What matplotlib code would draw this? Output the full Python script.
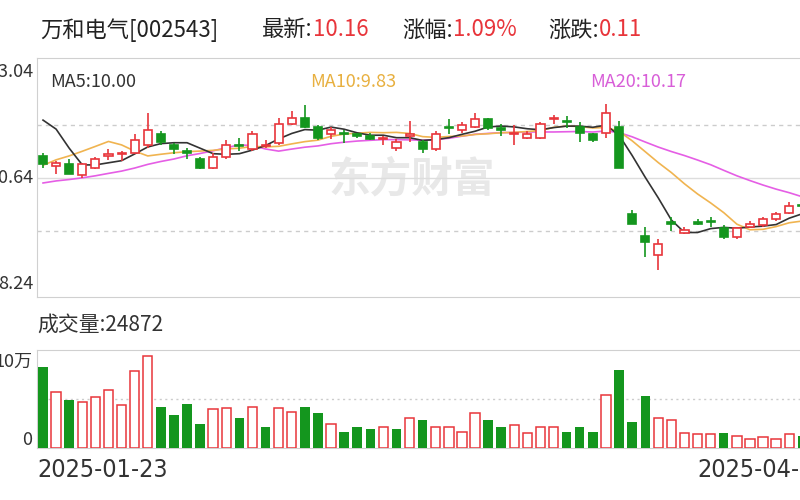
import numpy as np
import pandas as pd
import matplotlib
matplotlib.use("Agg")
import matplotlib.pyplot as plt

plt.rcParams['font.family'] = ['Noto Sans CJK SC', 'DejaVu Sans']

# closes before the visible window (used only for moving averages)
prior_close = [10.05, 10.10, 10.20, 10.15, 10.10, 10.18, 10.12, 10.08, 10.15, 10.17,
               9.75, 9.85, 9.90, 9.98, 10.07, 12.00, 12.90, 12.84, 11.08]
open_ = [11.15, 10.91, 10.95, 10.71, 10.88, 11.15, 11.19, 11.22, 11.39, 11.63, 11.39, 11.26, 11.08, 10.88, 11.12, 11.39, 11.29, 11.36, 11.43, 11.87, 12.01, 11.8, 11.63, 11.67, 11.63, 11.6, 11.53, 11.32, 11.6, 11.46, 11.29, 11.8, 11.74, 11.8, 11.98, 11.77, 11.63, 11.56, 11.56, 11.98, 11.94, 11.8, 11.63, 11.67, 11.8, 9.82, 9.33, 8.89, 9.64, 9.4, 9.64, 9.68, 9.51, 9.3, 9.54, 9.58, 9.71, 9.85, 10.03]
close = [10.95, 10.98, 10.74, 10.95, 11.08, 11.19, 11.22, 11.5, 11.74, 11.46, 11.29, 11.22, 10.88, 11.12, 11.39, 11.36, 11.63, 11.39, 11.87, 12.01, 11.8, 11.56, 11.74, 11.63, 11.6, 11.53, 11.56, 11.46, 11.63, 11.29, 11.63, 11.77, 11.84, 11.98, 11.77, 11.74, 11.67, 11.63, 11.87, 12.01, 11.91, 11.67, 11.5, 12.11, 10.88, 9.61, 9.2, 9.16, 9.61, 9.47, 9.61, 9.64, 9.3, 9.51, 9.61, 9.71, 9.82, 10.02, 10.01]
high = [11.22, 11.02, 11.08, 10.98, 11.12, 11.29, 11.26, 11.63, 12.11, 11.7, 11.43, 11.32, 11.12, 11.22, 11.5, 11.56, 11.7, 11.5, 12.01, 12.15, 12.29, 11.84, 11.8, 11.74, 11.67, 11.67, 11.6, 11.53, 11.94, 11.5, 11.7, 11.98, 11.91, 12.11, 12.01, 11.87, 11.84, 11.7, 11.91, 12.08, 12.05, 11.91, 11.67, 12.32, 11.94, 9.92, 9.54, 9.27, 9.75, 9.54, 9.71, 9.75, 9.58, 9.54, 9.68, 9.75, 9.88, 10.09, 10.08]
low = [10.88, 10.74, 10.74, 10.64, 10.84, 11.05, 11.02, 11.19, 11.32, 11.39, 11.19, 11.08, 10.84, 10.84, 11.08, 11.26, 11.26, 11.32, 11.39, 11.84, 11.77, 11.5, 11.53, 11.43, 11.56, 11.5, 11.39, 11.26, 11.46, 11.22, 11.26, 11.63, 11.67, 11.77, 11.74, 11.6, 11.39, 11.53, 11.53, 11.87, 11.77, 11.46, 11.46, 11.56, 10.88, 9.61, 8.85, 8.55, 9.44, 9.37, 9.58, 9.54, 9.27, 9.27, 9.51, 9.54, 9.68, 9.82, 9.95]
volume_wan = [9.4, 6.5, 5.6, 5.3, 5.9, 6.7, 5.0, 8.9, 10.7, 4.8, 3.8, 5.1, 2.8, 4.5, 4.6, 3.5, 4.8, 2.4, 4.6, 4.2,
              4.8, 4.1, 2.8, 1.9, 2.5, 2.2, 2.4, 2.2, 3.5, 3.2, 2.4, 2.5, 1.9, 4.1, 3.2, 2.4, 2.7, 1.7, 2.5, 2.5,
              1.9, 2.4, 1.9, 6.2, 9.1, 3.0, 6.0, 3.5, 3.2, 1.7, 1.6, 1.6, 1.7, 1.4, 1.1, 1.3, 1.0, 1.6, 1.4]
volume_up = [0,1,0,1,1,1,1,1,1,0,0,0,0,1,1,0,1,0,1,1,0,0,1,0,0,0,1,0,1,0,1,1,1,1,0,0,1,1,1,1,
             0,0,0,1,0,0,0,1,1,1,1,1,0,1,1,1,1,1,0]
price_ticks = [13.04, 10.64, 8.24]
date_labels = ["2025-01-23", "2025-04-1"]

RED = "#e8353b"
GREEN = "#14961e"
n = len(close)
x = np.arange(n)
allc = pd.Series(prior_close + close)
ma = {k: allc.rolling(k).mean().values[len(prior_close):] for k in (5, 10, 20)}

fig = plt.figure(figsize=(8, 5), dpi=100)
W, Hh = 800, 500
def ax_rect(l, t, r, b):
    return [l / W, 1 - b / Hh, (r - l) / W, (b - t) / Hh]

ax = fig.add_axes(ax_rect(37, 58, 801, 297))
xl = (-0.46, 57.9)
ax.set_xlim(*xl)
ax.set_ylim(7.95, 13.36)
for s in ax.spines.values():
    s.set_color("#d0d0d0")
ax.set_xticks([]); ax.set_yticks([])
ax.axhline(10.64, color="#dddddd", lw=1)
for g in (11.84, 9.44):
    ax.axhline(g, color="#cccccc", lw=1, ls=(0, (3, 3)))

ax.text(0.49, 0.49, "东方财富", transform=ax.transAxes, fontsize=30, color="#e8e8e8",
        fontweight="bold", ha="center", va="center", zorder=0)

ax.plot(x, ma[20], color="#e55ee5", lw=1.2, zorder=2)
ax.plot(x, ma[10], color="#f0b450", lw=1.2, zorder=2)
ax.plot(x, ma[5], color="#333333", lw=1.2, zorder=2)

bw = 0.62
for i in range(n):
    o, c, h, l = open_[i], close[i], high[i], low[i]
    up = c >= o
    col = RED if up else GREEN
    top, bot = max(o, c), min(o, c)
    ax.vlines(i, l, bot, color=col, lw=1.2, zorder=3)
    ax.vlines(i, top, h, color=col, lw=1.2, zorder=3)
    hgt = max(top - bot, 0.012)
    ax.add_patch(plt.Rectangle((i - bw / 2, bot), bw, hgt, facecolor="white" if up else col,
                               edgecolor=col, lw=1.2, zorder=4))

fs_ma = 13
ax.text(13 / 764, 0.9, "MA5:10.00", transform=ax.transAxes, color="#333333", fontsize=fs_ma, va="center")
ax.text(273 / 764, 0.9, "MA10:9.83", transform=ax.transAxes, color="#e8b040", fontsize=fs_ma, va="center")
ax.text(553 / 764, 0.9, "MA20:10.17", transform=ax.transAxes, color="#d85ed8", fontsize=fs_ma, va="center")

for t in price_ticks:
    ax.text(-4 / 764, t, f"{t:.2f}", transform=ax.get_yaxis_transform(), ha="right", va="center",
            fontsize=13, color="#333333", clip_on=False)

# volume
av = fig.add_axes(ax_rect(37, 350, 801, 448))
av.set_xlim(*xl)
av.set_ylim(0, 11.4)
for s in av.spines.values():
    s.set_color("#d0d0d0")
av.set_xticks([]); av.set_yticks([])
av.axhline(5.7, color="#cccccc", lw=1, ls=(0, (1.5, 2.5)))
for i, v in enumerate(volume_wan):
    if volume_up[i]:
        av.bar(i, v, width=0.72, facecolor="white", edgecolor=RED, lw=1.1, zorder=3)
    else:
        av.bar(i, v, width=0.72, color=GREEN, lw=0, zorder=3)
av.text(-5 / 764, 10, "10万", transform=av.get_yaxis_transform(), ha="right", va="center", fontsize=13, color="#333333")
av.text(-5 / 764, 0.9, "0", transform=av.get_yaxis_transform(), ha="right", va="center", fontsize=13, color="#333333")

# texts
fig.text(37 / W, 1 - 325 / Hh, "成交量:24872", fontsize=15, color="#333333", va="center")
fig.text(37 / W, 1 - 470 / Hh, date_labels[0], fontsize=18, color="#333333", va="center",
         family="DejaVu Sans", fontstretch="condensed")
fig.text(697 / W, 1 - 470 / Hh, date_labels[1], fontsize=18, color="#333333", va="center",
         family="DejaVu Sans", fontstretch="condensed")

ty = 1 - 30 / Hh
tf = 16
parts = [(40, "万和电气[002543]", "#222222"), (262, "最新:", "#222222"), (None, "10.16", RED),
         (402, "涨幅:", "#222222"), (None, "1.09%", RED), (548, "涨跌:", "#222222"), (None, "0.11", RED)]
fig.canvas.draw()
r = fig.canvas.get_renderer()
cur = 0
for px, s, c in parts:
    start = px if px is not None else cur
    t = fig.text(start / W, ty, s, fontsize=tf, color=c, va="center")
    cur = start + t.get_window_extent(renderer=r).width

fig.savefig("out.png", dpi=100)
